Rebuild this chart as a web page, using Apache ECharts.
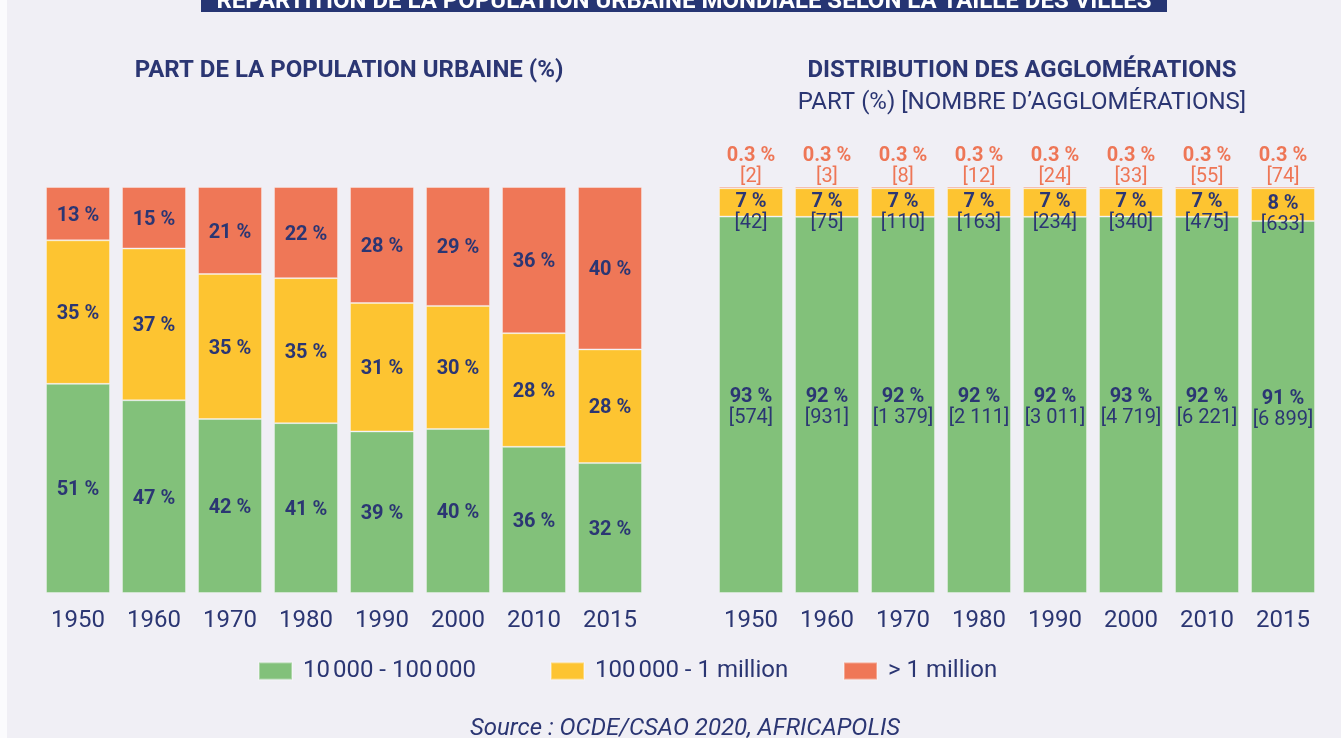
<!DOCTYPE html>
<html>
<head>
<meta charset="utf-8">
<script src="https://cdn.jsdelivr.net/npm/echarts@6/dist/echarts.min.js"></script>
<style>
  html, body { margin: 0; padding: 0; background: #f0eff5; }
  #chart { width: 1341px; height: 738px; }
</style>
</head>
<body>
<div id="chart"></div>
<script>
var years = ['1950', '1960', '1970', '1980', '1990', '2000', '2010', '2015'];
var seriesNames = ['10\u202f000 - 100\u202f000', '100\u202f000 - 1 million', '> 1 million'];

// part de la population urbaine (%)
var popSmall = [51, 47, 42, 41, 39, 40, 36, 32];
var popMedium = [35, 37, 35, 35, 31, 30, 28, 28];
var popLarge = [13, 15, 21, 22, 28, 29, 36, 40];

// distribution des agglomérations : part (%) et nombre
var aggSmallPct = [93, 92, 92, 92, 92, 93, 92, 91];
var aggMediumPct = [7, 7, 7, 7, 7, 7, 7, 8];
var aggLargePct = [0.3, 0.3, 0.3, 0.3, 0.3, 0.3, 0.3, 0.3];
var aggSmallNb = [574, 931, 1379, 2111, 3011, 4719, 6221, 6899];
var aggMediumNb = [42, 75, 110, 163, 234, 340, 475, 633];
var aggLargeNb = [2, 3, 8, 12, 24, 33, 55, 74];

var colors = ['#82c17a', '#fdc431', '#ef7757'];
var navy = '#2b3673';
var salmon = '#ee7656';

function norm(a, b, c) {
    var out = [[], [], []];
    for (var i = 0; i < a.length; i++) {
        var t = a[i] + b[i] + c[i];
        out[0].push(a[i] * 100 / t);
        out[1].push(b[i] * 100 / t);
        out[2].push(c[i] * 100 / t);
    }
    return out;
}
function fmt(n) {
    return String(n).replace(/\B(?=(\d{3})+(?!\d))/g, ' ');
}

var popN = norm(popSmall, popMedium, popLarge);
var aggN = norm(aggSmallPct, aggMediumPct, aggLargePct);
var popRaw = [popSmall, popMedium, popLarge];
var aggPct = [aggSmallPct, aggMediumPct, aggLargePct];
var aggNb = [aggSmallNb, aggMediumNb, aggLargeNb];
var aggOffsets = [[0, 3], [0, 10], [0, 3]];

var series = [];
for (var k = 0; k < 3; k++) {
    (function (k) {
        series.push({
            name: seriesNames[k],
            type: 'bar',
            stack: 'pop',
            xAxisIndex: 0,
            yAxisIndex: 0,
            barWidth: 64,
            itemStyle: { color: colors[k], borderColor: 'rgba(255,255,255,0.35)', borderWidth: 1 },
            label: {
                show: true,
                position: 'inside',
                offset: [0, 2],
                color: navy,
                fontFamily: 'Roboto',
                fontWeight: 'bold',
                fontSize: 20,
                formatter: function (p) { return popRaw[k][p.dataIndex] + ' %'; }
            },
            data: popN[k]
        });
        var c = k === 2 ? salmon : navy;
        series.push({
            name: seriesNames[k],
            type: 'bar',
            stack: 'agg',
            xAxisIndex: 1,
            yAxisIndex: 1,
            barWidth: 64,
            barMinHeight: k === 2 ? 3 : 0,
            itemStyle: { color: colors[k], borderColor: 'rgba(255,255,255,0.35)', borderWidth: 1 },
            label: {
                show: true,
                position: k === 2 ? 'top' : 'inside',
                distance: 2,
                offset: aggOffsets[k],
                formatter: function (p) {
                    return '{b|' + String(aggPct[k][p.dataIndex]) + ' %}\n{n|[' + fmt(aggNb[k][p.dataIndex]) + ']}';
                },
                rich: {
                    b: { fontFamily: 'Roboto', fontWeight: 'bold', fontSize: 20, lineHeight: 21, color: c },
                    n: { fontFamily: 'Roboto', fontSize: 20, lineHeight: 21, color: c }
                }
            },
            data: aggN[k]
        });
    })(k);
}

var legendPos = [258, 550, 843];
var legends = [];
for (var j = 0; j < 3; j++) {
    legends.push({
        data: [seriesNames[j]],
        left: legendPos[j], top: 659,
        padding: 0,
        itemWidth: 33, itemHeight: 17, itemGap: 0,
        icon: 'rect',
        selectedMode: false,
        textStyle: { color: navy, fontFamily: 'Roboto', fontSize: 24, padding: [0, 0, 0, 6] }
    });
}

var chart = echarts.init(document.getElementById('chart'));
var axisLabel = { color: navy, fontFamily: 'Roboto', fontSize: 24, margin: 16 };

chart.setOption({
    backgroundColor: '#f0eff5',
    textStyle: { fontFamily: 'Roboto' },
    title: [
        {
            text: 'PART DE LA POPULATION URBAINE (%)',
            left: 344, top: 54, textAlign: 'center',
            textStyle: { color: navy, fontFamily: 'Roboto', fontWeight: 'bold', fontSize: 24 }
        },
        {
            text: 'DISTRIBUTION DES AGGLOMÉRATIONS',
            subtext: 'PART (%) [NOMBRE D\u2019AGGLOMÉRATIONS]',
            left: 1017, top: 54, textAlign: 'center', itemGap: 8,
            textStyle: { color: navy, fontFamily: 'Roboto', fontWeight: 'bold', fontSize: 24 },
            subtextStyle: { color: navy, fontFamily: 'Roboto', fontSize: 24 }
        },
        {
            text: 'Source : OCDE/CSAO 2020, AFRICAPOLIS',
            left: 680, top: 712, textAlign: 'center',
            textStyle: { color: navy, fontFamily: 'Roboto', fontStyle: 'italic', fontWeight: 'normal', fontSize: 24 }
        }
    ],
    legend: legends,
    grid: [
        { left: 40, width: 608, top: 187, bottom: 145 },
        { left: 713, width: 608, top: 187, bottom: 145 }
    ],
    xAxis: [
        { type: 'category', gridIndex: 0, data: years, axisLine: { show: false }, axisTick: { show: false }, axisLabel: axisLabel },
        { type: 'category', gridIndex: 1, data: years, axisLine: { show: false }, axisTick: { show: false }, axisLabel: axisLabel }
    ],
    yAxis: [
        { type: 'value', gridIndex: 0, min: 0, max: 100, show: false },
        { type: 'value', gridIndex: 1, min: 0, max: 100, show: false }
    ],
    graphic: [
        { type: 'rect', left: 0, top: 0, shape: { width: 7, height: 738 }, style: { fill: '#fbfbfd' } },
        { type: 'rect', left: 201, top: 0, shape: { width: 966, height: 12 }, style: { fill: '#263573' } },
        {
            type: 'text', x: 684, y: 2,
            style: {
                text: 'RÉPARTITION DE LA POPULATION URBAINE MONDIALE SELON LA TAILLE DES VILLES',
                fill: '#ffffff', font: 'bold 24px Roboto', align: 'center', verticalAlign: 'middle'
            }
        }
    ],
    series: series
});
</script>
</body>
</html>
